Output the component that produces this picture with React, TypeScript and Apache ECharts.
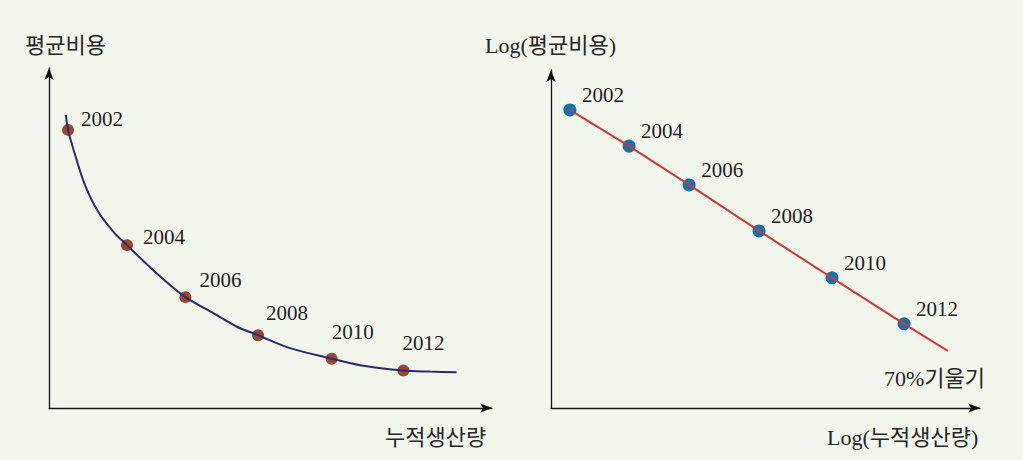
import React, { useEffect, useRef } from "react";
import * as echarts from "echarts";

// Years shown on both panels
const years = ["2002", "2004", "2006", "2008", "2010", "2012"];

// Left panel: cumulative output (x) vs average cost (y), schematic units 0-100
const cumOutput = [4.3, 17.6, 30.8, 47.2, 63.8, 80.0];
const avgCost = [81.8, 47.9, 32.6, 21.4, 14.5, 11.0];
// Curve, including its start and end
const curveX = [3.8, 4.3, 5.9, 8.1, 11.1, 14.5, 17.6, 23.9, 30.8, 37.1, 42.4, 47.2, 54.4, 63.8, 70.2, 80.0, 86.0, 92.0];
const curveY = [86.2, 81.8, 74.4, 65.6, 57.7, 51.9, 47.9, 40.1, 32.6, 27.9, 23.9, 21.4, 17.6, 14.5, 12.6, 11.0, 10.7, 10.5];

// Right panel: log(cumulative output) vs log(average cost)
const logOutput = [4.4, 18.2, 32.2, 48.5, 65.5, 82.3];
const logCost = [88.2, 77.5, 66.0, 52.4, 38.5, 24.9];
const lineEndX = 92.5;
const lineEndY = 16.9;

// Label offsets (style only)
const leftLabelOffsets = [
  [13, -11],
  [16, -8],
  [14, -17],
  [8, -22],
  [0, -27],
  [-1, -28],
];

const SERIF = "'Liberation Serif', 'Noto Sans CJK KR', serif";
const BG = "#f3f6ed";

export default function App() {
  const ref = useRef<HTMLDivElement>(null);

  useEffect(() => {
    document.body.style.margin = "0";
    const chart = echarts.init(ref.current!, undefined, { renderer: "svg" });

    const axisCommon = {
      type: "value",
      min: 0,
      max: 100,
      axisTick: { show: false },
      axisLabel: { show: false },
      splitLine: { show: false },
    };
    const axisLine = {
      show: true,
      onZero: false,
      symbol: ["none", "arrow"],
      symbolSize: [7, 12],
      lineStyle: { color: "#111", width: 1.3 },
    };

    const labelStyle = {
      show: true,
      position: "inside",
      align: "left",
      verticalAlign: "middle",
      fontFamily: SERIF,
      fontSize: 21,
      color: "#1e1e1e",
      textBorderWidth: 0,
      textShadowBlur: 0,
    };

    const title = (text: string, x: number, y: number) => ({
      type: "text",
      x,
      y,
      style: {
        text,
        fontFamily: SERIF,
        fontSize: 22,
        fontWeight: "normal",
        fill: "#262626",
        textAlign: "left",
        textVerticalAlign: "middle",
        verticalAlign: "middle",
      },
    });

    chart.setOption({
      animation: false,
      backgroundColor: BG,
      grid: [
        { left: 49, top: 68, width: 443, height: 340 },
        { left: 551, top: 70, width: 429, height: 338 },
      ],
      xAxis: [
        { ...axisCommon, gridIndex: 0, axisLine },
        { ...axisCommon, gridIndex: 1, axisLine },
      ],
      yAxis: [
        { ...axisCommon, gridIndex: 0, axisLine },
        { ...axisCommon, gridIndex: 1, axisLine },
      ],
      series: [
        {
          type: "line",
          xAxisIndex: 0,
          yAxisIndex: 0,
          data: curveX.map((x, i) => [x, curveY[i]]),
          smooth: 0.3,
          showSymbol: false,
          lineStyle: { color: "#2a2a6c", width: 2 },
          silent: true,
        },
        {
          type: "scatter",
          xAxisIndex: 0,
          yAxisIndex: 0,
          symbolSize: 12,
          itemStyle: { color: "#9c4632", opacity: 1 },
          data: cumOutput.map((x, i) => ({
            value: [x, avgCost[i]],
            label: { ...labelStyle, offset: leftLabelOffsets[i], formatter: years[i] },
          })),
        },
        {
          type: "line",
          xAxisIndex: 1,
          yAxisIndex: 1,
          data: [...logOutput.map((x, i) => [x, logCost[i]]), [lineEndX, lineEndY]],
          showSymbol: false,
          lineStyle: { color: "#cc3a3a", width: 2 },
          silent: true,
        },
        {
          type: "scatter",
          xAxisIndex: 1,
          yAxisIndex: 1,
          symbolSize: 13,
          itemStyle: { color: "#1670ab", opacity: 1 },
          data: logOutput.map((x, i) => ({
            value: [x, logCost[i]],
            label: { ...labelStyle, offset: [12, -15], formatter: years[i] },
          })),
        },
      ],
      graphic: [
        title("평균비용", 25, 45),
        title("누적생산량", 385, 437),
        title("Log(평균비용)", 485, 45),
        title("Log(누적생산량)", 827, 437),
        title("70%기울기", 884, 378),
      ],
    });

    return () => chart.dispose();
  }, []);

  return <div ref={ref} style={{ width: 1023, height: 460, background: BG }} />;
}
